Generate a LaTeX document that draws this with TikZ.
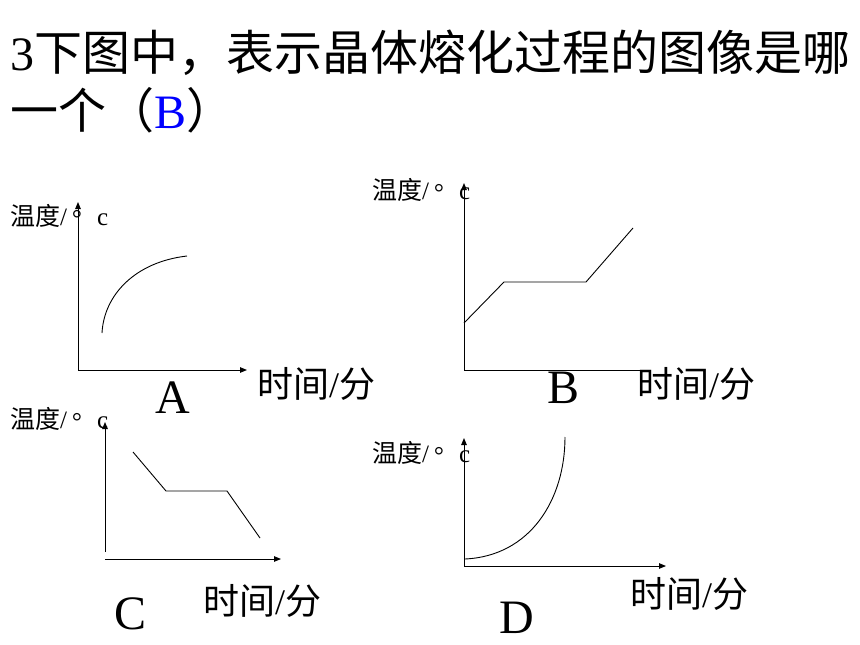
\documentclass[tikz,border=0pt]{standalone}
\usepackage{fontspec}
\setmainfont{Liberation Serif}
\newfontfamily\cjk{Noto Sans CJK SC}
\usetikzlibrary{arrows.meta}
\newcommand{\ylab}{{\cjk 温度}/\hspace{0.2em}{\cjk\raisebox{0.33em}{。}}c}
\newcommand{\xlab}{{\cjk 时间}/{\cjk 分}}
\begin{document}
\begin{tikzpicture}[x=1pt,y=-1pt,
  txt/.style={inner sep=0pt,anchor=base west},
  ytxt/.style={txt,font=\fontsize{25}{30}\selectfont},
  xtxt/.style={txt,font=\fontsize{36}{42}\selectfont},
  big/.style={txt,font=\fontsize{48}{58}\selectfont},
  axis/.style={line width=0.9pt,-{Triangle[length=7pt,width=5.5pt]}},
  plainaxis/.style={line width=0.9pt},
  curve/.style={line width=0.9pt}]
\useasboundingbox (0,0) rectangle (860,645);
% title
\node[big] (t1) at (10,70) {3{\cjk 下图中，表示晶体熔化过程的图像是哪}};
\node[big] (t2) at (10,128) {{\cjk 一个（}{\color{blue}B}{\cjk ）}};
% ---------- A ----------
\coordinate (Ao) at (78,370);
\coordinate (Ay) at (78,202);
\coordinate (Ax) at (247,370);
\draw[axis] (Ao) -- (Ay);
\draw[axis] (Ao) -- (Ax);
\coordinate (A1) at (102,333);
\coordinate (A2) at (187,256);
\draw[curve] (A1) .. controls (104,295) and (135,262) .. (A2);
\node[ytxt] (Aylab) at (10,225) {\ylab};
\node[xtxt] (Axlab) at (257,397) {\xlab};
\node[big] (Alab) at (155,413) {A};
% ---------- B ----------
\coordinate (Bo) at (464,370);
\coordinate (By) at (464,183);
\coordinate (Bx) at (640,370);
\draw[axis] (Bo) -- (By);
\draw[plainaxis] (Bo) -- (Bx);
\coordinate (B1) at (464,323);
\coordinate (B2) at (504,282);
\coordinate (B3) at (586,282);
\coordinate (B4) at (633,228);
\draw[curve] (B1) -- (B2) -- (B3) -- (B4);
\node[ytxt] (Bylab) at (372,199) {\ylab};
\node[xtxt] (Bxlab) at (637,397) {\xlab};
\node[big] (Blab) at (547,403) {B};
% ---------- C ----------
\coordinate (Co) at (105,552);
\coordinate (Cy) at (105,422);
\coordinate (Cxo) at (105,559);
\coordinate (Cx) at (281,559);
\draw[axis] (Co) -- (Cy);
\draw[axis] (Cxo) -- (Cx);
\coordinate (C1) at (133,452);
\coordinate (C2) at (166,491);
\coordinate (C3) at (227,491);
\coordinate (C4) at (260,538);
\draw[curve] (C1) -- (C2) -- (C3) -- (C4);
\node[ytxt] (Cylab) at (10,428) {\ylab};
\node[xtxt] (Cxlab) at (203,614) {\xlab};
\node[big] (Clab) at (114,629) {C};
% ---------- D ----------
\coordinate (Do) at (464,566);
\coordinate (Dy) at (464,438);
\coordinate (Dx) at (666,566);
\draw[axis] (Do) -- (Dy);
\draw[axis] (Do) -- (Dx);
\coordinate (D1) at (465,559);
\coordinate (D2) at (565,437);
\draw[curve] (D1) .. controls (530,556) and (565,500) .. (D2);
\node[ytxt] (Dylab) at (372,462) {\ylab};
\node[xtxt] (Dxlab) at (630,607) {\xlab};
\node[big] (Dlab) at (499,633) {D};
\end{tikzpicture}
\end{document}
